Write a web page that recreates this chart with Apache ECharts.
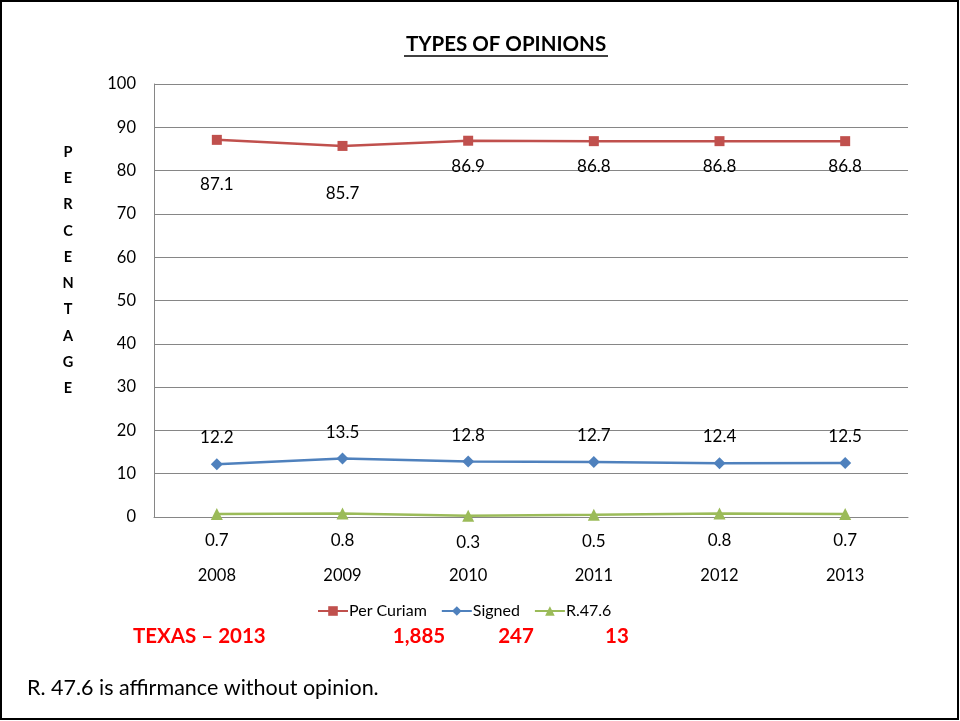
<!DOCTYPE html>
<html>
<head>
<meta charset="utf-8">
<script src="https://cdn.jsdelivr.net/npm/echarts@6/dist/echarts.min.js"></script>
<style>
  html, body { margin: 0; padding: 0; background: #fff; }
  #chart { width: 960px; height: 721px; }
</style>
</head>
<body>
<div id="chart"></div>
<script>
// Opinion types by year (percent of all opinions)
const years = ['2008', '2009', '2010', '2011', '2012', '2013'];
const perCuriam = [87.1, 85.7, 86.9, 86.8, 86.8, 86.8];
const signed = [12.2, 13.5, 12.8, 12.7, 12.4, 12.5];
const r476 = [0.7, 0.8, 0.3, 0.5, 0.8, 0.7];
const yTicks = [0, 10, 20, 30, 40, 50, 60, 70, 80, 90, 100];
const texasCounts = ['1,885', '247', '13'];

// label distance below each Per Curiam point
const curiamLabelGap = [31, 34, 12, 12, 12, 12];

const FONT = 'Lato, "Liberation Sans", sans-serif';
const RED = '#C0504D', BLUE = '#4F81BD', GREEN = '#9BBB59';

const chart = echarts.init(document.getElementById('chart'));

const labelStyle = { fontFamily: FONT, fontSize: 17, color: '#000' };

chart.setOption({
  animation: false,
  backgroundColor: '#fff',
  grid: { left: 154, right: 52, top: 84, bottom: 204 },
  xAxis: {
    type: 'category',
    data: years,
    boundaryGap: true,
    axisLine: { show: true, lineStyle: { color: '#868686', width: 1 } },
    axisTick: { show: false },
    axisLabel: { margin: 50, fontFamily: FONT, fontSize: 16.5, color: '#000' }
  },
  yAxis: {
    type: 'value',
    min: yTicks[0],
    max: yTicks[yTicks.length - 1],
    interval: yTicks[1] - yTicks[0],
    axisLine: { show: true, lineStyle: { color: '#868686', width: 1 } },
    axisTick: { show: false },
    splitLine: { lineStyle: { color: '#868686', width: 1 } },
    axisLabel: { margin: 18, fontFamily: FONT, fontSize: 16.5, color: '#000' }
  },
  legend: {
    top: 598,
    left: 312,
    itemWidth: 30,
    itemHeight: 12,
    itemGap: 14,
    textStyle: { fontFamily: FONT, fontSize: 16, color: '#000', padding: [0, 0, 0, -4] },
    data: ['Per Curiam', 'Signed', 'R.47.6']
  },
  series: [
    {
      name: 'Per Curiam',
      type: 'line',
      data: perCuriam.map((v, i) => ({
        value: v,
        label: { position: 'bottom', distance: curiamLabelGap[i] }
      })),
      symbol: 'rect',
      symbolSize: 10,
      color: RED,
      lineStyle: { color: RED, width: 2.5 },
      itemStyle: { color: RED },
      label: Object.assign({ show: true, formatter: p => p.value.toFixed(1) }, labelStyle)
    },
    {
      name: 'Signed',
      type: 'line',
      data: signed,
      symbol: 'diamond',
      symbolSize: 12,
      color: BLUE,
      lineStyle: { color: BLUE, width: 2.5 },
      itemStyle: { color: BLUE },
      label: Object.assign({ show: true, position: 'top', distance: 12, formatter: p => p.value.toFixed(1) }, labelStyle)
    },
    {
      name: 'R.47.6',
      type: 'line',
      data: r476,
      symbol: 'triangle',
      symbolSize: 12,
      color: GREEN,
      lineStyle: { color: GREEN, width: 2.5 },
      itemStyle: { color: GREEN },
      label: Object.assign({ show: true, position: 'bottom', distance: 12, formatter: p => p.value.toFixed(1) }, labelStyle)
    }
  ],
  graphic: [
    // page frame
    { type: 'rect', shape: { x: 1, y: 1, width: 957, height: 718 },
      style: { fill: 'none', stroke: '#000', lineWidth: 2 }, silent: true },
    // title with underline
    { type: 'text', x: 506, y: 44,
      style: { text: 'TYPES OF OPINIONS', fontFamily: FONT, fontWeight: 'bold', fontSize: 20.5,
               fill: '#000', align: 'center', verticalAlign: 'middle' } },
    { type: 'line', shape: { x1: 404, y1: 56, x2: 608, y2: 56 },
      style: { stroke: '#000', lineWidth: 1.5 } },
    // vertical axis name, one letter per row
    ...'PERCENTAGE'.split('').map((ch, i) => ({
      type: 'text', x: 68, y: 152 + i * 26.3,
      style: { text: ch, fontFamily: FONT, fontWeight: 'bold', fontSize: 14.5, fill: '#000',
               align: 'center', verticalAlign: 'middle' }
    })),
    // Texas 2013 totals
    { type: 'text', x: 133, y: 636,
      style: { text: 'TEXAS \u2013 2013', fontFamily: FONT, fontWeight: 'bold', fontSize: 20.5,
               fill: '#FF0000', align: 'left', verticalAlign: 'middle' } },
    ...texasCounts.map((t, i) => ({
      type: 'text', x: [419, 516, 617][i], y: 636,
      style: { text: t, fontFamily: FONT, fontWeight: 'bold', fontSize: 20.5, fill: '#FF0000',
               align: 'center', verticalAlign: 'middle' }
    })),
    // footnote
    { type: 'text', x: 27, y: 688,
      style: { text: 'R. 47.6 is affirmance without opinion.', fontFamily: FONT, fontSize: 21.5,
               fill: '#000', align: 'left', verticalAlign: 'middle' } }
  ]
});
</script>
</body>
</html>
